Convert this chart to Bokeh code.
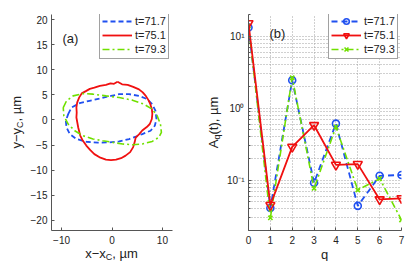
import math
from bokeh.plotting import figure
from bokeh.layouts import row
from bokeh.models import Range1d, FixedTicker, Legend, LegendItem, Label, GridBox
from bokeh.embed import file_html
from bokeh.resources import INLINE

FONT = "Liberation Sans"

series_labels = ["t=71.7", "t=75.1", "t=79.3"]

# ---- panel (a): contours (x - xC, y - yC), um
blue_x = [-8.69, -8.04, -6.41, -4.45, -2.49, -0.20, 1.43, 3.39, 5.35, 7.00, 7.98, 8.63, 8.82,
          8.49, 7.65, 6.02, 4.71, 3.39, 1.43, -0.53, -2.80, -5.10, -7.06, -8.37, -9.02, -9.16]
blue_y = [1.17, 2.48, 3.35, 3.81, 4.27, 4.80, 5.14, 5.14, 4.80, 4.15, 3.15, 1.83, 0.18,
          -1.15, -2.14, -2.80, -3.33, -3.79, -4.27, -4.46, -4.52, -4.33, -3.79, -2.80, -1.49, -0.16]

red_x = [1.1, 0.4, -0.3, -1.2, -2.4, -3.5, -4.4, -5.1, -6.0, -6.5, -6.9, -7.06, -7.0, -7.06,
         -6.7, -6.3, -5.8, -5.1, -4.3, -3.5, -2.3, -1.2, -0.2, 0.8, 1.8, 2.7, 3.6, 4.2,
         4.5, 4.7, 5.4, 6.0, 6.9, 7.5, 7.9, 8.0, 7.9, 7.6, 7.2, 6.7, 6.1, 5.35, 4.2, 3.1, 2.0]
red_y = [7.6, 7.2, 7.3, 7.0, 6.8, 6.45, 6.2, 5.8, 5.3, 4.5, 3.5, 2.5, 1.5, 0.5,
         -1.5, -3.1, -4.1, -5.1, -6.0, -6.8, -7.5, -7.9, -8.0, -7.9, -7.6, -7.1, -6.4, -5.4,
         -4.4, -3.5, -2.8, -2.1, -1.4, -0.8, 0.2, 1.2, 2.2, 3.15, 4.0, 4.8, 5.5, 6.1, 6.6, 7.0, 7.1]

green_x = [-9.67, -9.02, -7.71, -5.75, -3.78, -1.18, 1.43, 4.06, 6.33, 7.98, 8.96, 9.61, 9.80,
           9.27, 7.98, 6.02, 4.06, 2.10, 0.14, -1.82, -3.78, -5.75, -7.39, -8.69, -9.55]
green_y = [2.48, 3.81, 4.80, 5.26, 5.14, 4.80, 4.47, 3.95, 3.15, 2.16, 0.83, -0.81, -2.48,
           -3.47, -4.27, -4.78, -4.92, -4.78, -4.46, -4.13, -3.79, -3.13, -2.14, -0.81, 0.83]

# ---- panel (b): mode amplitudes A_q(t), um
q = [0, 1, 2, 3, 4, 5, 6, 7]
A_717 = [13.2, 0.041, 2.44, 0.092, 0.61, 0.044, 0.115, 0.118]
A_751 = [15.1, 0.045, 0.29, 0.58, 0.163, 0.167, 0.054, 0.056]
A_793 = [13.8, 0.030, 2.65, 0.077, 0.55, 0.073, 0.105, 0.028]

x_ticks_a = [-10, 0, 10]
y_ticks_a = [-20, -15, -10, -5, 0, 5, 10, 15, 20]
x_ticks_b = [0, 1, 2, 3, 4, 5, 6, 7]
y_ticks_b = [0.1, 1, 10]
y_minor_b = [0.02, 0.03, 0.04, 0.05, 0.06, 0.07, 0.08, 0.09,
             0.2, 0.3, 0.4, 0.5, 0.6, 0.7, 0.8, 0.9,
             2, 3, 4, 5, 6, 7, 8, 9, 20]
y_labels_b = {0.1: "10\u207b\u00b9", 1: "10\u2070", 10: "10\u00b9"}

BLUE = "#2050f0"
RED = "#f01010"
GREEN = "#70e000"
AX = "#555555"
TXT = "#222222"

W, H = 411, 261


def minus(v):
    return str(v).replace("-", "\u2212")


def style_axes(p):
    for ax in (p.xaxis[0], p.yaxis[0]):
        ax.axis_line_color = AX
        ax.major_tick_line_color = AX
        ax.minor_tick_line_color = AX
        ax.major_tick_in = 3
        ax.major_tick_out = 0
        ax.minor_tick_in = 0
        ax.minor_tick_out = 0
        ax.major_label_text_font = FONT
        ax.major_label_text_font_size = "10px"
        ax.major_label_text_color = TXT
    p.xaxis.major_label_standoff = 5
    p.yaxis.major_label_standoff = 4


def txt(p, s, x, y, size="13px", angle=0.0, align="left", baseline="alphabetic"):
    p.add_layout(Label(x=x, y=y, x_units="screen", y_units="screen", text=s,
                       text_font=FONT, text_font_size=size, text_color=TXT,
                       angle=angle, text_align=align, text_baseline=baseline))


def make_legend(p, items, loc):
    lg = Legend(items=items, location=loc, margin=0, padding=2, spacing=0,
                glyph_width=30, glyph_height=14, label_height=14, label_standoff=3,
                label_text_font=FONT, label_text_font_size="11px", label_text_color=TXT,
                border_line_color="#444444", border_line_width=1,
                background_fill_color="white", background_fill_alpha=1.0)
    p.add_layout(lg, "center")


# ================= panel (a)
p1 = figure(width=205, height=H, x_range=Range1d(-12, 12), y_range=Range1d(-22, 21),
            output_backend="svg", toolbar_location=None,
            min_border_left=51, min_border_right=33, min_border_top=14, min_border_bottom=31)
p1.outline_line_color = None
p1.grid.visible = False
p1.xaxis.ticker = FixedTicker(ticks=x_ticks_a)
p1.yaxis.ticker = FixedTicker(ticks=y_ticks_a)
p1.xaxis.major_label_overrides = {v: minus(v) for v in x_ticks_a}
p1.yaxis.major_label_overrides = {v: minus(v) for v in y_ticks_a}
style_axes(p1)

rb = p1.line(blue_x + blue_x[:1], blue_y + blue_y[:1], line_color=BLUE, line_width=1.8,
             line_dash="5 3")
rr = p1.line(red_x + red_x[:1], red_y + red_y[:1], line_color=RED, line_width=1.8)
rg = p1.line(green_x + green_x[:1], green_y + green_y[:1], line_color=GREEN, line_width=1.6,
             line_dash="7 3 2 3")
make_legend(p1, [LegendItem(label=series_labels[0], renderers=[rb]),
                 LegendItem(label=series_labels[1], renderers=[rr]),
                 LegendItem(label=series_labels[2], renderers=[rg])], (48, 171))
txt(p1, "(a)", 11, 192)

# ================= panel (b)
p2 = figure(width=206, height=H, x_range=Range1d(0, 7), y_range=Range1d(0.02, 20),
            y_axis_type="log", output_backend="svg", toolbar_location=None,
            min_border_left=43, min_border_right=10, min_border_top=8, min_border_bottom=31)
p2.outline_line_color = None
p2.xaxis.ticker = FixedTicker(ticks=x_ticks_b)
p2.yaxis.ticker = FixedTicker(ticks=y_ticks_b, minor_ticks=y_minor_b)
p2.yaxis.major_label_overrides = y_labels_b
style_axes(p2)
p2.yaxis.minor_tick_in = 2
for g in (p2.xgrid[0], p2.ygrid[0]):
    g.grid_line_color = "#a0a0a0"
    g.grid_line_dash = "1 2"
    g.grid_line_width = 1
p2.ygrid.minor_grid_line_color = "#a0a0a0"
p2.ygrid.minor_grid_line_dash = "1 2"
p2.ygrid.minor_grid_line_width = 1

lb = p2.line(q, A_717, line_color=BLUE, line_width=1.8, line_dash="6 4")
mb = p2.scatter(q, A_717, marker="circle", size=7, line_color=BLUE, line_width=1.6,
                fill_color=None)
lg_ = p2.line(q, A_793, line_color=GREEN, line_width=1.6, line_dash="7 3 2 3")
mg = p2.scatter(q, A_793, marker="x", size=6, line_color=GREEN, line_width=1.6)
lr = p2.line(q, A_751, line_color=RED, line_width=1.8)
mr = p2.scatter(q, A_751, marker="inverted_triangle", size=9, line_color=RED, line_width=1.6,
                fill_color=None)
make_legend(p2, [LegendItem(label=series_labels[0], renderers=[lb, mb]),
                 LegendItem(label=series_labels[1], renderers=[lr, mr]),
                 LegendItem(label=series_labels[2], renderers=[lg_, mg])], (80, 171))
txt(p2, "(b)", 21, 197)

# ================= transparent overlay carrying the axis titles (with subscripts)
ov = figure(width=W, height=H, x_range=Range1d(0, W), y_range=Range1d(0, H),
            output_backend="svg", toolbar_location=None,
            x_axis_location=None, y_axis_location=None, min_border=0)
ov.outline_line_color = None
ov.grid.visible = False
ov.background_fill_color = None
ov.border_fill_color = None

# x label of (a): x−x_C, µm
txt(ov, "x\u2212x", 84.7, 8)
txt(ov, "C", 105.3, 4.5, size="9px")
txt(ov, ", \u00b5m", 111.8, 8)
# x label of (b)
txt(ov, "q", 324, 7, align="center")
# y label of (a): y−y_C, µm
txt(ov, "y\u2212y", 16, 113, angle=math.pi / 2)
txt(ov, "C", 19.5, 133.6, size="9px", angle=math.pi / 2)
txt(ov, ", \u00b5m", 16, 140.1, angle=math.pi / 2)
# y label of (b): A_q(t), µm
txt(ov, "A", 213, 113.3, angle=math.pi / 2)
txt(ov, "q", 216, 122, size="9px", angle=math.pi / 2)
txt(ov, "(t), \u00b5m", 213, 127, angle=math.pi / 2)

panels = row(p1, p2)
layout = GridBox(children=[(panels, 0, 0), (ov, 0, 0)])
open("out.html", "w").write(file_html(layout, INLINE))
